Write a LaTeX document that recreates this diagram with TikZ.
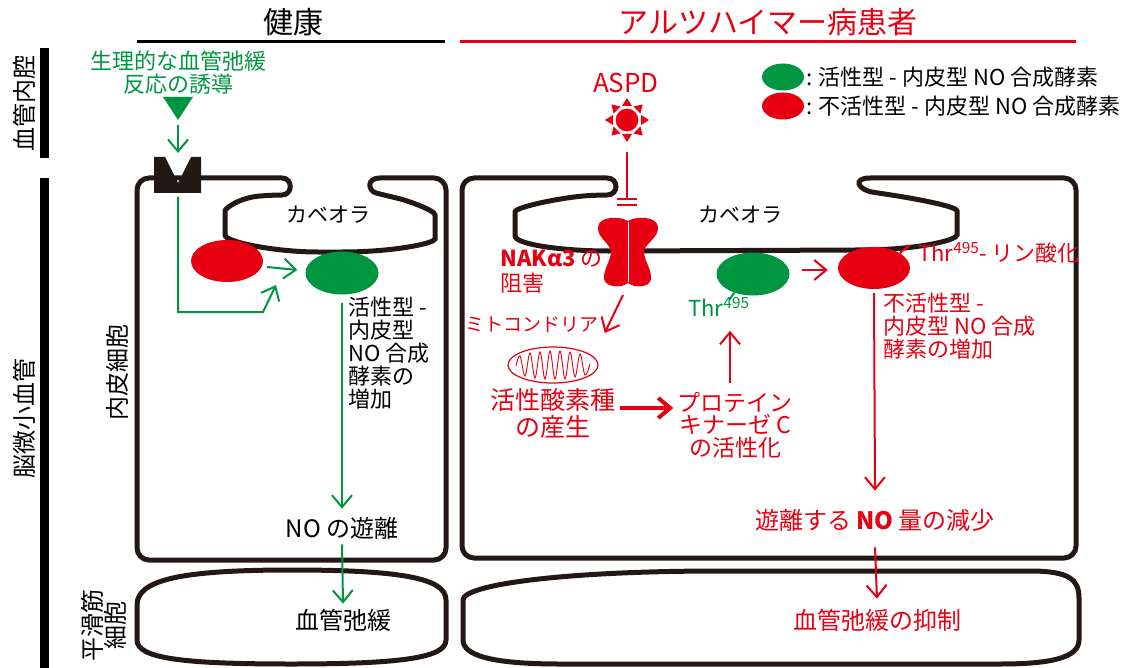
\documentclass[tikz,border=0pt]{standalone}
\usepackage{fontspec}
\setmainfont{Noto Sans CJK JP}
\usetikzlibrary{arrows.meta,shapes.geometric}

\definecolor{hgreen}{RGB}{0,150,64}
\definecolor{adred}{RGB}{230,0,18}
\definecolor{wall}{RGB}{35,24,21}

\begin{document}
\begin{tikzpicture}[x=1pt,y=-1pt,
    head/.style={font=\fontsize{30}{32}\selectfont, inner sep=0pt},
    side/.style={font=\fontsize{24}{23}\selectfont, rotate=90, inner sep=0pt},
    note/.style={font=\fontsize{22}{23}\selectfont, inner sep=0pt},
    big/.style={font=\fontsize{24}{27}\selectfont, inner sep=0pt},
    wallline/.style={draw=wall, line width=5pt, rounded corners=12pt},
    rule/.style={line width=3pt},
    enos/.style={ellipse, fill=#1, minimum width=73pt, minimum height=43pt, inner sep=0pt},
    garr/.style={hgreen, line width=2pt, -{Straight Barb[length=12pt,width=20pt]}},
    rarr/.style={adred, line width=2pt, -{Straight Barb[length=12pt,width=20pt]}}
]
\useasboundingbox (0,0) rectangle (1131,668);

% --- headings ---
\node[head] (hlth) at (293,22) {健康};
\draw[rule] (137,42) -- (445,42);
\node[head, text=adred] (pat) at (768,22) {アルツハイマー病患者};
\draw[rule, adred] (460,42) -- (1076,42);

% --- side bars and labels ---
\fill (40,48) rectangle (49,158);
\fill (40,178) rectangle (49,668);
\node[side] (lumen) at (24,104) {血管内腔};
\node[side] (vessel) at (24,418) {脳微小血管};
\node[side] (endo) at (117,372) {内皮細胞};
\node[side, align=center] (smc) at (104,625) {平滑筋\\細胞};

% --- endothelial cells with caveolae ---
\draw[wallline] (137,400) -- (137,178) -- (270,178)
    .. controls (293,178) and (293,195) .. (270,195)
    .. controls (240,198) and (225,208) .. (225,223)
    .. controls (225,242) and (275,252) .. (330,252)
    .. controls (395,252) and (435,243) .. (435,227)
    .. controls (435,210) and (405,200) .. (388,196)
    .. controls (368,191) and (366,178) .. (392,178)
    -- (446,178) -- (446,560) -- (137,560) -- cycle;
\draw[wallline] (462,400) -- (462,178) -- (595,178)
    .. controls (619,178) and (619,195) .. (595,195)
    .. controls (560,198) and (515,207) .. (515,224)
    .. controls (515,244) and (560,251) .. (620,251)
    -- (860,250)
    .. controls (920,249) and (957,240) .. (957,223)
    .. controls (957,206) and (910,198) .. (885,194)
    .. controls (858,190) and (852,178) .. (882,178)
    -- (1076,178) -- (1076,558) -- (462,558) -- cycle;

% --- smooth muscle cells ---
\draw[draw=wall, line width=5pt] (137,605)
    .. controls (137,580) and (180,570) .. (291,570)
    .. controls (400,570) and (446,578) .. (446,600) -- (446,640)
    .. controls (446,658) and (400,664) .. (291,664)
    .. controls (180,664) and (137,658) .. (137,640) -- cycle;
\draw[draw=wall, line width=5pt] (463,600)
    .. controls (463,585) and (560,571) .. (720,571) -- (1030,571)
    .. controls (1070,571) and (1079,580) .. (1079,598) -- (1079,640)
    .. controls (1079,658) and (1050,664) .. (1000,664) -- (560,664)
    .. controls (490,664) and (463,655) .. (463,640) -- cycle;

\node[note, font=\fontsize{21}{21}\selectfont] (cav1) at (328,215) {カベオラ};
\node[note, font=\fontsize{21}{21}\selectfont] (cav2) at (740,215) {カベオラ};

% --- healthy side ---
\fill[hgreen] (163,97) -- (193,97) -- (178,120) -- cycle;
\node[note, text=hgreen, align=center] (relax) at (178,73) {生理的な血管弛緩\\反応の誘導};
\coordinate (sig) at (178,125);
\coordinate (rcp) at (178,153);
\draw[garr] (sig) -- (rcp);
\fill[wall] (154,193) -- (154,157) -- (165,157) -- (178,183) -- (191,157)
    -- (201,157) -- (201,193) -- cycle;

\node[enos=adred, minimum width=72pt, minimum height=42pt] (lr) at (227,261) {};
\node[enos=hgreen] (lg) at (342,273) {};
\draw[garr] (rcp) ++(0,44) -- (178,312) -- (263,312) -- (276,285);
\draw[garr] ([shift={(4,6)}]lr.east) -- ([shift={(-8,-3)}]lg.west);

\node[note, anchor=north west, align=left] (lup) at (348,297)
    {活性型 -\\内皮型\\NO 合成\\酵素の\\増加};
\node[big] (lno) at (342,528) {NO の遊離};
\node[big] (lrel) at (343,620) {血管弛緩};
\draw[garr] ([yshift=-8pt]lg.south) -- ([yshift=8pt]lno.north);
\draw[garr] ([yshift=-5pt]lno.south) -- ([yshift=5pt]lrel.north);

% --- Alzheimer side ---
\node[text=adred, inner sep=0pt, font=\fontsize{26}{26}\selectfont] (aspd) at (626,83) {ASPD};
\node[circle, fill=adred, draw=white, line width=1pt, minimum size=24pt, inner sep=0pt] (sun) at (627,120) {};
\foreach \a in {0,45,...,315}
    \fill[adred, shift={(sun.center)}, rotate=\a] (22,0) -- (14,5) -- (14,-5) -- cycle;
\coordinate (blk) at (627,199);
\draw[adred, line width=2pt] (sun) ++(0,32) -- (blk);
\draw[adred, line width=2pt] (blk) ++(-10,0) -- ++(20,0) ++(-20,6) -- ++(20,0);

% Na/K pump
\begin{scope}[shift={(628,252)}]
    \fill[adred] (0,-31)
        .. controls (-8,-36) and (-29,-36) .. (-30,-25)
        .. controls (-31,-14) and (-17,-8) .. (-17,0)
        .. controls (-17,8) and (-25,18) .. (-24,27)
        .. controls (-22,36) and (-6,36) .. (0,31)
        .. controls (6,36) and (22,36) .. (23,27)
        .. controls (24,18) and (16,8) .. (16,0)
        .. controls (16,-8) and (31,-14) .. (30,-25)
        .. controls (29,-36) and (8,-36) .. (0,-31) -- cycle;
    \draw[white, line width=0.6pt] (0,-30) -- (0,30);
\end{scope}
\coordinate (nak) at (628,252);
\node[note, text=adred, anchor=north west, align=left, font=\fontsize{22}{25}\selectfont] (nakl) at (500,250)
    {\textbf{NAKα3} の\\阻害};

\node[text=adred, inner sep=0pt, font=\fontsize{19}{19}\selectfont] (mito) at (532,325) {ミトコンドリア};
\draw[rarr] (nak) ++(-5,43) -- ([shift={(6,8)}]mito.east);

\node[ellipse, draw=adred, line width=1.2pt, minimum width=90pt, minimum height=36pt, inner sep=0pt] (mch) at (553,365) {};
\draw[adred, line width=0.9pt] plot[smooth, tension=0.6] coordinates {
    (516,366) (520,356) (525,376) (530,353) (535,378) (540,352) (545,379)
    (550,351) (555,379) (560,351) (565,379) (570,352) (575,377) (580,354)
    (585,375) (590,364)};

\node[text=adred, align=center, inner sep=0pt, font=\fontsize{25}{27}\selectfont] (ros) at (553,413) {活性酸素種\\の産生};
\node[text=adred, align=center, inner sep=0pt, font=\fontsize{23}{22.5}\selectfont] (pkc) at (735,425) {プロテイン\\キナーゼ C\\の活性化};
\draw[rarr, line width=4pt] ([shift={(4,-5)}]ros.east) -- ([shift={(-4,-17)}]pkc.west);

\node[enos=hgreen] (rg) at (753,274) {};
\node[enos=adred, minimum width=72pt, minimum height=42pt] (rr) at (874,268) {};
\draw[hgreen, line width=2pt] (rg.225) -- ++(-5,7);
\draw[adred, line width=2pt] (rr.30) -- ++(10,-8);
\node[note, text=hgreen] (thr1) at (719,307) {Thr\textsuperscript{495}};
\node[note, text=adred, anchor=base west] (thr2) at (918,261) {Thr\textsuperscript{495}- リン酸化};
\draw[rarr] ([shift={(-5,-9)}]pkc.north) -- ++(0,-52);
\draw[rarr] ([shift={(12,-4)}]rg.east) -- ([shift={(-10,2)}]rr.west);

\node[note, text=adred, anchor=north west, align=left] (rup) at (883,293)
    {不活性型 -\\内皮型 NO 合成\\酵素の増加};
\node[big, text=adred] (rno) at (875,520) {遊離する \textbf{NO} 量の減少};
\node[big, text=adred] (rrel) at (877,620) {血管弛緩の抑制};
\draw[rarr] ([yshift=-4pt]rr.south) -- ([yshift=18pt]rno.north);
\draw[rarr] ([yshift=-16pt]rno.south) -- ([yshift=10pt]rrel.north);

% --- legend ---
\node[enos=hgreen, minimum width=42pt, minimum height=27pt] (kg) at (783,77) {};
\node[note, anchor=west] (kgl) at (806,77) {: 活性型 - 内皮型 NO 合成酵素};
\node[enos=adred, minimum width=42pt, minimum height=27pt] (kr) at (783,106) {};
\node[note, anchor=west] (krl) at (806,106) {: 不活性型 - 内皮型 NO 合成酵素};
\end{tikzpicture}
\end{document}
